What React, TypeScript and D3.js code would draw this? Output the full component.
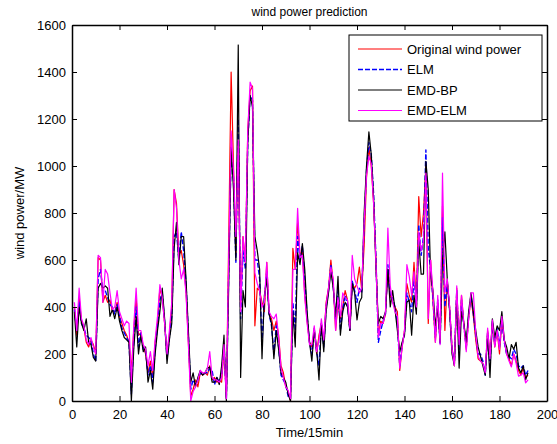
import React, { useEffect, useRef } from "react";
import * as d3 from "d3";

// readings taken from the figure, one value per 15 min step (t = 1..192)
const original = [
  400, 280, 440, 340, 310, 250, 230, 260, 240, 200, 610, 600, 420, 450, 420, 430, 380, 380, 420, 360,
  330, 300, 280, 250, 130, 300, 440, 280, 290, 230, 200, 120, 170, 100, 250, 330, 480, 440, 330, 200,
  280, 400, 900, 840, 620, 640, 580, 470, 250, 20, 50, 90, 60, 120, 110, 120, 110, 150, 90, 100,
  80, 90, 80, 220, 10, 700, 1400, 1000, 620, 1100, 380, 700, 590, 1150, 1320, 1340, 320, 480, 470, 420,
  380, 590, 370, 350, 300, 340, 280, 150, 120, 60, 40, 0, 650, 560, 760, 620, 640, 450, 340, 250,
  230, 300, 200, 280, 330, 250, 420, 480, 600, 500, 300, 420, 350, 400, 470, 430, 300, 500, 480, 500,
  570, 470, 660, 950, 1080, 1000, 840, 600, 280, 340, 330, 370, 560, 450, 420, 400, 380, 130, 230, 300,
  500, 450, 420, 590, 420, 870, 700, 800, 1000, 330, 600, 420, 250, 420, 250, 830, 300, 510, 400, 230,
  150, 480, 250, 450, 330, 220, 350, 440, 360, 260, 180, 170, 160, 120, 300, 200, 330, 230, 300, 200,
  340, 260, 200, 180, 150, 200, 170, 130, 110, 140, 100, 110,
];

const elm = [
  390, 300, 420, 330, 310, 280, 270, 260, 200, 170, 520, 560, 460, 470, 440, 410, 400, 370, 410, 360,
  310, 290, 270, 250, 30, 260, 400, 230, 290, 220, 210, 110, 150, 80, 220, 320, 430, 460, 340, 180,
  270, 360, 700, 720, 600, 720, 640, 500, 280, 50, 90, 70, 90, 120, 110, 120, 120, 140, 130, 70,
  100, 80, 110, 240, 10, 560, 1050, 950, 590, 1200, 350, 640, 560, 1100, 1300, 1280, 600, 600, 520, 250,
  430, 550, 370, 320, 200, 320, 230, 110, 90, 70, 20, 10, 420, 300, 700, 600, 660, 520, 360, 250,
  200, 300, 210, 150, 330, 230, 400, 470, 580, 490, 340, 480, 300, 390, 450, 410, 300, 510, 470, 420,
  480, 460, 750, 980, 1100, 1050, 880, 600, 250, 300, 340, 370, 580, 440, 440, 400, 330, 150, 240, 290,
  460, 420, 380, 520, 400, 750, 620, 700, 1068, 650, 560, 430, 270, 430, 240, 780, 400, 500, 390, 220,
  160, 470, 220, 430, 320, 230, 360, 450, 370, 280, 200, 200, 170, 110, 290, 150, 340, 240, 310, 230,
  340, 250, 200, 190, 180, 220, 200, 150, 140, 150, 110, 130,
];

const emdBp = [
  380, 230, 400, 330, 300, 350, 250, 240, 185, 170, 480, 500, 480, 490, 480, 360, 390, 350, 400, 340,
  300, 270, 260, 250, 0, 220, 360, 200, 280, 210, 230, 80, 130, 50, 200, 300, 380, 480, 350, 160,
  260, 330, 650, 760, 580, 700, 700, 520, 300, 80, 120, 60, 100, 130, 110, 120, 140, 145, 80, 80,
  100, 70, 150, 280, 0, 500, 1080, 900, 600, 1515, 100, 470, 400, 1100, 1300, 1250, 700, 640, 560, 180,
  450, 520, 370, 330, 180, 300, 220, 120, 100, 80, 30, 0, 380, 230, 630, 580, 670, 560, 380, 250,
  170, 310, 220, 90, 330, 210, 380, 460, 550, 480, 360, 530, 280, 380, 420, 400, 300, 500, 460, 345,
  420, 440, 800, 1000, 1145, 1050, 860, 560, 330, 360, 350, 380, 560, 400, 470, 390, 300, 210, 250, 280,
  420, 430, 280, 450, 370, 680, 540, 540, 1020, 900, 530, 470, 320, 400, 250, 600, 720, 520, 380, 200,
  150, 450, 140, 380, 330, 250, 380, 460, 380, 300, 230, 190, 150, 110, 280, 100, 350, 270, 320, 300,
  380, 260, 230, 180, 240, 220, 250, 140, 120, 150, 90, 120,
];

const emdElm = [
  420, 300, 480, 350, 320, 260, 240, 270, 230, 200, 620, 610, 420, 560, 540, 460, 390, 400, 470, 380,
  350, 320, 340, 330, 80, 320, 480, 300, 300, 240, 220, 150, 210, 130, 260, 360, 495, 440, 330, 200,
  300, 420, 900, 820, 600, 520, 560, 460, 240, 0, 40, 60, 90, 130, 120, 120, 140, 210, 100, 90,
  90, 80, 100, 240, 10, 620, 1150, 980, 700, 1110, 380, 700, 590, 1150, 1357, 1330, 545, 500, 470, 400,
  420, 590, 380, 360, 350, 370, 270, 140, 100, 60, 45, 10, 560, 560, 820, 610, 620, 440, 330, 240,
  240, 320, 210, 260, 350, 260, 410, 480, 570, 520, 300, 440, 360, 460, 440, 430, 310, 620, 520, 490,
  460, 480, 760, 960, 1040, 1010, 840, 580, 270, 330, 330, 380, 736, 490, 420, 380, 360, 140, 230, 300,
  580, 530, 450, 550, 400, 720, 640, 680, 970, 350, 600, 460, 250, 450, 240, 970, 460, 520, 400, 220,
  150, 490, 240, 450, 320, 210, 350, 460, 460, 290, 190, 170, 160, 120, 310, 180, 345, 230, 300, 220,
  360, 260, 200, 170, 145, 200, 160, 106, 110, 120, 77, 90,
];

const seriesNames = ["Original wind power", "ELM", "EMD-BP", "EMD-ELM"];
const xTicks = [0, 20, 40, 60, 80, 100, 120, 140, 160, 180, 200];
const yTicks = [0, 200, 400, 600, 800, 1000, 1200, 1400, 1600];

const App = () => {
  const ref = useRef<SVGSVGElement>(null);

  useEffect(() => {
    const svg = d3.select(ref.current);
    svg.selectAll("*").remove();

    const left = 72, right = 547, top = 25, bottom = 401;
    const font = "Arial, 'Liberation Sans', sans-serif";

    const x = d3.scaleLinear().domain([0, 200]).range([left, right]);
    const y = d3.scaleLinear().domain([0, 1600]).range([bottom, top]);

    const series = [
      { name: seriesNames[0], data: original, color: "#ff0000", dash: null },
      { name: seriesNames[1], data: elm, color: "#0000ff", dash: "5,2" },
      { name: seriesNames[2], data: emdBp, color: "#000000", dash: null },
      { name: seriesNames[3], data: emdElm, color: "#ff00ff", dash: null },
    ];

    svg.append("rect").attr("width", 557).attr("height", 444).attr("fill", "#fff");

    // clip so lines stay in the box
    svg.append("clipPath").attr("id", "plotClip")
      .append("rect")
      .attr("x", left).attr("y", top - 1)
      .attr("width", right - left).attr("height", bottom - top + 1);

    const line = d3.line<number>()
      .x((d, i) => x(i + 1))
      .y(d => y(d));

    const lines = svg.append("g").attr("clip-path", "url(#plotClip)");
    series.forEach(s => {
      lines.append("path")
        .datum(s.data)
        .attr("fill", "none")
        .attr("stroke", s.color)
        .attr("stroke-width", s.dash ? 1.4 : 1.2)
        .attr("stroke-dasharray", s.dash)
        .attr("stroke-linejoin", "round")
        .attr("d", line);
    });

    // matlab style ticks, pointing inward on all four sides
    const axBottom = svg.append("g")
      .attr("transform", `translate(0,${bottom})`)
      .call(d3.axisBottom(x).tickValues(xTicks).tickSizeInner(-5).tickSizeOuter(0).tickPadding(9));
    const axTop = svg.append("g")
      .attr("transform", `translate(0,${top})`)
      .call(d3.axisTop(x).tickValues(xTicks).tickSizeInner(-5).tickSizeOuter(0).tickFormat(() => ""));
    const axLeft = svg.append("g")
      .attr("transform", `translate(${left},0)`)
      .call(d3.axisLeft(y).tickValues(yTicks).tickFormat(d3.format("d")).tickSizeInner(-5).tickSizeOuter(0).tickPadding(6));
    const axRight = svg.append("g")
      .attr("transform", `translate(${right},0)`)
      .call(d3.axisRight(y).tickValues(yTicks).tickSizeInner(-5).tickSizeOuter(0).tickFormat(() => ""));

    [axBottom, axTop, axLeft, axRight].forEach(a => {
      a.select(".domain").attr("stroke", "#000").attr("stroke-width", 1.5);
      a.selectAll(".tick line").attr("stroke", "#000");
      a.selectAll("text")
        .attr("font-family", font)
        .attr("font-size", 13)
        .attr("fill", "#000");
    });

    // titles
    svg.append("text")
      .attr("x", (left + right) / 2)
      .attr("y", 16)
      .attr("text-anchor", "middle")
      .attr("font-family", font)
      .attr("font-size", 12)
      .text("wind power prediction");

    svg.append("text")
      .attr("x", (left + right) / 2)
      .attr("y", 437)
      .attr("text-anchor", "middle")
      .attr("font-family", font)
      .attr("font-size", 13)
      .text("Time/15min");

    svg.append("text")
      .attr("transform", `translate(24,${(top + bottom) / 2}) rotate(-90)`)
      .attr("text-anchor", "middle")
      .attr("font-family", font)
      .attr("font-size", 13)
      .text("wind power/MW");

    // legend
    const legend = svg.append("g");
    legend.append("rect")
      .attr("x", 349).attr("y", 35)
      .attr("width", 193).attr("height", 86)
      .attr("fill", "#fff")
      .attr("stroke", "#000")
      .attr("stroke-width", 1);

    series.forEach((s, i) => {
      const ly = 49 + i * 20.5;
      legend.append("line")
        .attr("x1", 358).attr("x2", 402)
        .attr("y1", ly).attr("y2", ly)
        .attr("stroke", s.color)
        .attr("stroke-width", s.dash ? 1.4 : 1.2)
        .attr("stroke-dasharray", s.dash);
      legend.append("text")
        .attr("x", 407).attr("y", ly + 4.5)
        .attr("font-family", font)
        .attr("font-size", 13)
        .text(s.name);
    });
  }, []);

  return (
    <svg ref={ref} width={557} height={444}
      style={{ position: "absolute", left: 0, top: 0 }} />
  );
};

export default App;
